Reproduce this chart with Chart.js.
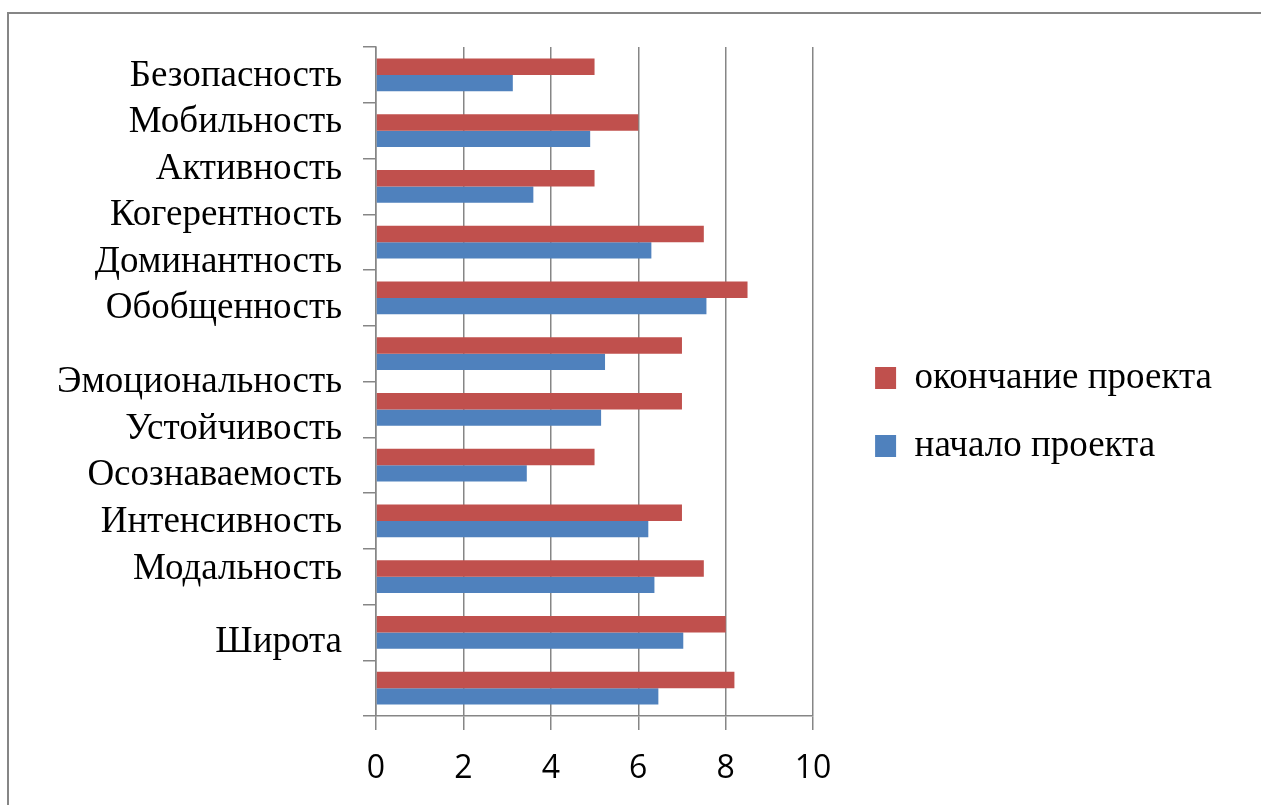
<!DOCTYPE html>
<html lang="ru">
<head>
<meta charset="utf-8">
<title>Начало и окончание проекта</title>
<script src="https://cdn.jsdelivr.net/npm/chart.js@4.4.1/dist/chart.umd.min.js"></script>
<style>
  html, body { margin: 0; padding: 0; background: #fff; overflow: hidden; }
  #frame { position: absolute; left: 7px; top: 12px; width: 1400px; height: 900px; border: 2px solid #868686; }
  #box { position: absolute; left: 0; top: 0; width: 1213px; height: 796px; }
</style>
</head>
<body>
<div id="frame"><div id="box"><canvas id="chart"></canvas></div></div>
<script>
// Categories, top to bottom as they appear
const categories = [
    'Безопасность', 'Мобильность', 'Активность', 'Когерентность',
    'Доминантность', 'Обобщенность', 'Эмоциональность', 'Устойчивость',
    'Осознаваемость', 'Интенсивность', 'Модальность', 'Широта'
];
const seriesNames = ['окончание проекта', 'начало проекта'];
const endValues   = [5, 6, 5, 7.5, 8.5, 7, 7, 5, 7, 7.5, 8, 8.2];
const startValues = [3.13, 4.9, 3.6, 6.3, 7.56, 5.24, 5.15, 3.45, 6.23, 6.37, 7.03, 6.46];
const xTicks = [0, 2, 4, 6, 8, 10];

// In the original the labels drift up from their bars; px lift for each one
const labelLift = [2, 11, 20, 30, 38.5, 48, 30, 39, 48.5, 57, 66, 49];

const GRID = '#868686';
const SERIF = "'Liberation Serif', 'Times New Roman', serif";

new Chart(document.getElementById('chart'), {
    type: 'bar',
    data: {
        // second empty line + per-tick lineHeight lifts each label
        labels: categories.map(c => [c, '']),
        datasets: [
            { label: seriesNames[0], data: endValues, backgroundColor: '#C0504D',
              categoryPercentage: 0.59, barPercentage: 1.0 },
            { label: seriesNames[1], data: startValues, backgroundColor: '#4F81BD',
              categoryPercentage: 0.59, barPercentage: 1.0 }
        ]
    },
    options: {
        indexAxis: 'y',
        responsive: true,
        maintainAspectRatio: false,
        animation: false,
        layout: { padding: 0 },
        scales: {
            x: {
                min: xTicks[0],
                max: xTicks[xTicks.length - 1],
                afterBuildTicks: s => { s.ticks = xTicks.map(v => ({ value: v })); },
                afterFit: s => { s.height = 94; },
                grid: { color: GRID, lineWidth: 1.5, tickLength: 14, tickColor: GRID },
                border: { display: true, color: GRID, width: 1.5 },
                ticks: { color: '#000', padding: 20, font: { family: "'Open Sans', sans-serif", size: 32 } }
            },
            y: {
                afterFit: s => { s.width = 367; s.paddingTop = 33; s.paddingBottom = 0; },
                grid: { drawOnChartArea: false, offset: true, color: GRID, lineWidth: 1.5, tickLength: 13 },
                border: { display: true, color: GRID, width: 1.5 },
                ticks: {
                    autoSkip: false,
                    color: '#000',
                    padding: 21,
                    labelOffset: 3,
                    font: ctx => ({ family: SERIF, size: 37, lineHeight: (labelLift[ctx.index] * 2) + 'px' })
                }
            },
            // empty spacer between the plot and the legend
            gap: {
                type: 'linear',
                position: 'right',
                display: true,
                grid: { display: false },
                border: { display: false },
                ticks: { display: false },
                afterFit: s => { s.width = 31; s.paddingTop = 0; s.paddingBottom = 0; }
            }
        },
        plugins: {
            legend: {
                position: 'right',
                align: 'center',
                maxWidth: 600,
                labels: {
                    color: '#000',
                    boxWidth: 21,
                    boxHeight: 22,
                    padding: 31,
                    font: { family: SERIF, size: 37 }
                }
            },
            tooltip: { enabled: false }
        }
    }
});
</script>
</body>
</html>
